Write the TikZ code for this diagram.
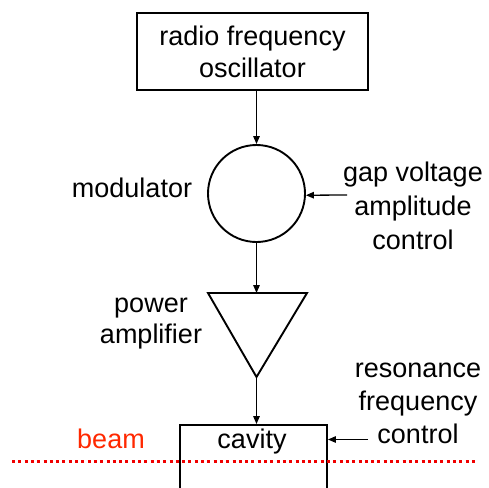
\documentclass[tikz,border=0pt]{standalone}
\usepackage{fontspec}
\setmainfont{Liberation Sans}
\usetikzlibrary{arrows.meta}
\definecolor{beamred}{RGB}{255,40,0}
\definecolor{dotred}{RGB}{240,0,0}
\tikzset{
  lbl/.style={font=\fontsize{27}{33}\selectfont, inner sep=0pt, align=center, anchor=base},
  blk/.style={draw, line width=1.9pt},
  arr/.style={line width=1.3pt, -{Triangle[length=8pt,width=6.5pt]}},
}
\begin{document}
\begin{tikzpicture}[x=1pt,y=-1pt]
\useasboundingbox (0,0) rectangle (489,487);
% blocks
\node[blk, minimum width=231pt, minimum height=77pt, inner sep=0pt,
      font=\fontsize{27}{32}\selectfont, align=center] (osc) at (252.5,51.5)
      {radio frequency\\oscillator};
\node[blk, circle, minimum size=97pt, inner sep=0pt] (mod) at (256.5,193.5) {};
\coordinate (tl) at (208,293);
\coordinate (tr) at (307,293);
\coordinate (ap) at (256.5,377);
\draw[blk, line join=miter] (tl) -- (tr) -- (ap) -- cycle;
\node[blk, minimum width=147pt, minimum height=110pt, inner sep=0pt] (cav) at (253.5,480) {};
% labels (base anchor = baseline of the last line)
\node[lbl] (cavlbl) at (252,448) {cavity};
\node[lbl] (modlbl) at (132,197) {modulator};
\node[lbl, font=\fontsize{27}{34}\selectfont] (gaplbl) at (413,249) {gap voltage\\amplitude\\control};
\node[lbl, font=\fontsize{27}{31}\selectfont] (pwrlbl) at (151,343) {power\\amplifier};
\node[lbl, font=\fontsize{27}{33}\selectfont] (reslbl) at (418,443) {resonance\\frequency\\control};
\node[lbl, text=beamred] (beamlbl) at (111,448) {beam};
% connectors
\draw[arr] (osc.south -| mod.north) -- (mod.north);
\draw[arr] (mod.south) -- (mod.south |- tl);
\draw[arr] (ap) -- (ap |- cav.north);
\coordinate (gapstart) at (347,195);
\draw[arr] (gapstart) -- (mod.-2.4);
\coordinate (resstart) at (368,439.5);
\draw[arr] (resstart) -- (resstart -| cav.east);
% beam
\coordinate (bl) at (12,461);
\coordinate (br) at (476,461);
\draw[dotred, line width=3pt, dash pattern=on 3pt off 3.3pt] (bl) -- (br);
\end{tikzpicture}
\end{document}
